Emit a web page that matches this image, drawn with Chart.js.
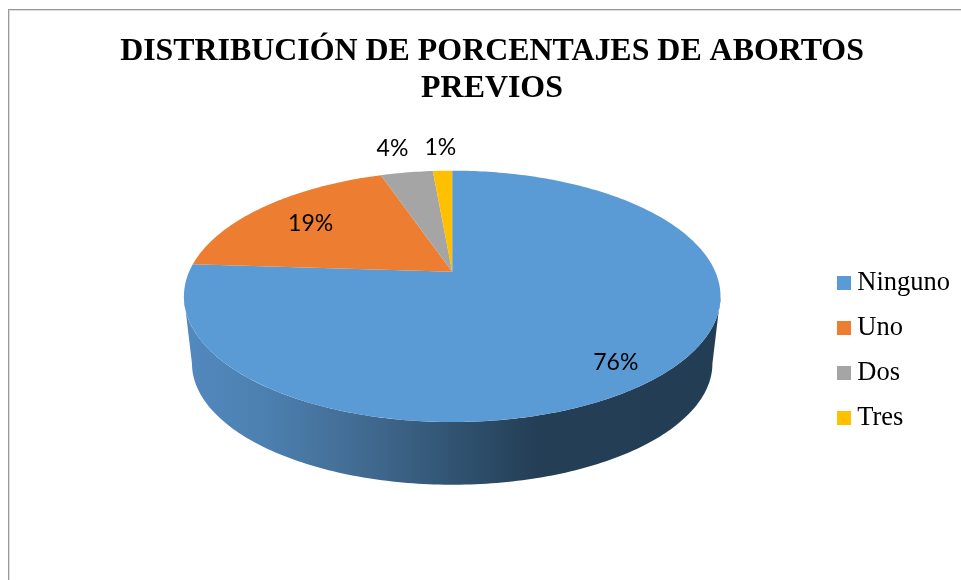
<!DOCTYPE html>
<html>
<head>
<meta charset="utf-8">
<script src="https://cdn.jsdelivr.net/npm/chart.js@4"></script>
<style>
  html, body { margin: 0; padding: 0; background: #fff; overflow: hidden; }
  #wrap { position: relative; width: 961px; height: 580px; }
  #frame { position: absolute; left: 8px; top: 9px; right: -5px; bottom: -5px; border: 1px solid #999; box-shadow: inset 1px 1px 0 #ddd; }
  canvas { position: absolute; left: 0; top: 0; }
</style>
</head>
<body>
<div id="wrap">
  <div id="frame"></div>
  <canvas id="chart" width="961" height="580"></canvas>
</div>
<script>
const titleLines = ["DISTRIBUCIÓN DE PORCENTAJES DE ABORTOS", "PREVIOS"];
const categories = ["Ninguno", "Uno", "Dos", "Tres"];
const values = [76, 18.8, 3.8, 1.4];
const percentLabels = ["76%", "19%", "4%", "1%"];
const colors = ["#5b9bd5", "#ed7d31", "#a5a5a5", "#ffc000"];

// where each percent label sits: radial factor, then a small nudge
const labelSpots = [
  { r: 0.8, dx: 1, dy: 11 },
  { r: 0.72, dx: -3, dy: 0 },
  { r: 1.28, dx: -4, dy: -2 },
  { r: 1.28, dx: 0, dy: -1 }
];

// tilted pie: circle seen in perspective, so the apex is not the ellipse centre
const TILT = -0.195;
const X_STRETCH = 1.643;
const Y_STRETCH = 0.755;
// bottom rim of the wall
const RIM_SCALE_X = 0.97;
const RIM_SCALE_Y = 0.965;
const RIM_DROP = 0.424;

function project(arc, angle, f = 1) {
  const u = Math.cos(angle) * f;
  const v = Math.sin(angle) * f;
  const w = 1 + TILT * v;
  return {
    x: arc.x + (arc.outerRadius * X_STRETCH * u) / w,
    y: arc.y + (arc.outerRadius * Y_STRETCH * v) / w
  };
}

function projectRim(arc, angle) {
  const p = project(arc, angle);
  return {
    x: arc.x + (p.x - arc.x) * RIM_SCALE_X,
    y: arc.y + (p.y - arc.y) * RIM_SCALE_Y + arc.outerRadius * RIM_DROP
  };
}

function traceTop(ctx, arc, from, to) {
  const steps = Math.max(2, Math.ceil(Math.abs(to - from) * 60));
  for (let i = 0; i <= steps; i++) {
    const p = project(arc, from + ((to - from) * i) / steps);
    ctx.lineTo(p.x, p.y);
  }
}

function drawWall(ctx, arc) {
  const a0 = Math.asin(-TILT);
  const from = Math.max(arc.startAngle, a0);
  const to = Math.min(arc.endAngle, Math.PI - a0);
  if (to <= from) return;

  const left = project(arc, Math.PI - a0).x;
  const right = project(arc, a0).x;
  const grad = ctx.createLinearGradient(left, 0, right, 0);
  grad.addColorStop(0, "#5289bf");
  grad.addColorStop(0.15, "#4c80b0");
  grad.addColorStop(0.33, "#426b92");
  grad.addColorStop(0.5, "#315472");
  grad.addColorStop(0.66, "#243e55");
  grad.addColorStop(1, "#233d54");

  ctx.beginPath();
  traceTop(ctx, arc, from, to);
  const steps = Math.ceil((to - from) * 60);
  for (let i = 0; i <= steps; i++) {
    const p = projectRim(arc, to + ((from - to) * i) / steps);
    ctx.lineTo(p.x, p.y);
  }
  ctx.closePath();
  ctx.fillStyle = grad;
  ctx.fill();
}

function drawSlice(ctx, arc, color) {
  ctx.beginPath();
  ctx.moveTo(arc.x, arc.y);
  traceTop(ctx, arc, arc.startAngle, arc.endAngle);
  ctx.closePath();
  ctx.fillStyle = color;
  ctx.fill();
}

const tiltedPie = {
  id: "tiltedPie",
  afterLayout(chart) {
    // title is centred a bit left of the plot, legend sits lower than the plot
    chart.titleBlock.left = 24;
    chart.legend.bottom += 18;
  },
  beforeDatasetDraw(chart, args) {
    const ctx = chart.ctx;
    const arcs = chart.getDatasetMeta(args.index).data;
    ctx.save();
    arcs.forEach((arc) => drawWall(ctx, arc));
    arcs.forEach((arc, i) => drawSlice(ctx, arc, colors[i]));

    ctx.fillStyle = "#000";
    ctx.font = "23px Lato";
    ctx.textAlign = "center";
    ctx.textBaseline = "middle";
    arcs.forEach((arc, i) => {
      const spot = labelSpots[i];
      const p = project(arc, (arc.startAngle + arc.endAngle) / 2, spot.r);
      ctx.fillText(percentLabels[i], p.x + spot.dx, p.y + spot.dy);
    });
    ctx.restore();
    return false;
  }
};

function swatch(color) {
  const c = document.createElement("canvas");
  c.width = 14;
  c.height = 14;
  const g = c.getContext("2d");
  g.fillStyle = color;
  g.fillRect(0, 0, 14, 14);
  return c;
}

new Chart(document.getElementById("chart"), {
  type: "pie",
  data: {
    labels: categories,
    datasets: [{ data: values, backgroundColor: colors, borderWidth: 0 }]
  },
  options: {
    responsive: false,
    animation: false,
    layout: { padding: { left: 79, right: 1, top: 14, bottom: 148 } },
    plugins: {
      title: {
        display: true,
        text: titleLines,
        color: "#000",
        font: { family: "Liberation Serif", size: 31.9, weight: "bold", lineHeight: 1.155 },
        padding: { top: 19, bottom: 5 }
      },
      legend: {
        position: "right",
        align: "end",
        labels: {
          color: "#000",
          font: { family: "Liberation Serif", size: 26.5 },
          padding: 18.5,
          usePointStyle: true,
          pointStyleWidth: 0.1,
          generateLabels: () =>
            categories.map((name, i) => ({
              text: name,
              fillStyle: colors[i],
              strokeStyle: colors[i],
              pointStyle: swatch(colors[i]),
              lineWidth: 0,
              index: i
            }))
        }
      },
      tooltip: { enabled: false }
    }
  },
  plugins: [tiltedPie]
});
</script>
</body>
</html>
